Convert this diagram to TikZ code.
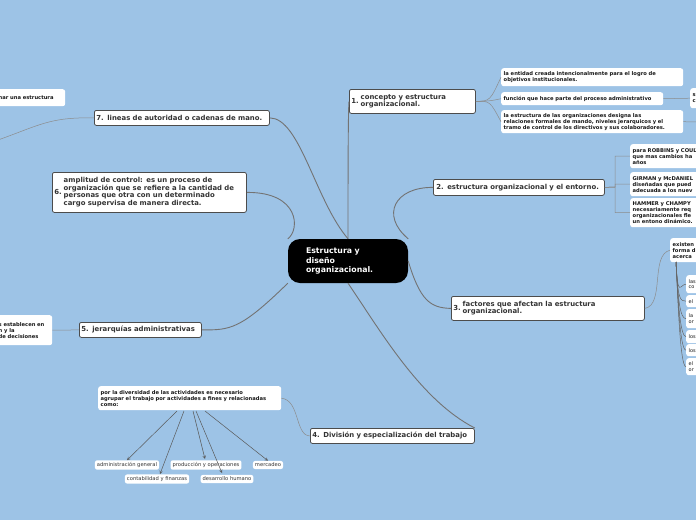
\documentclass[tikz,border=0pt]{standalone}
\usepackage{fontspec}
\setmainfont{DejaVu Sans}
\begin{document}
\begin{tikzpicture}[x=1pt,y=-1pt,
 main/.style={draw=black!70,fill=white,rounded corners=2pt,line width=0.8pt,font=\bfseries\fontsize{6.9}{7.4}\selectfont,align=left,inner sep=2pt,anchor=north west,text=black!80},
 sub/.style={fill=white,rounded corners=2.5pt,font=\bfseries\fontsize{5.2}{6}\selectfont,align=left,inner sep=2.5pt,anchor=north west,text=black!90},
 tw/.style={text width=#1pt},
 leaf/.style={fill=white,rounded corners=2pt,font=\fontsize{5.2}{6}\selectfont,inner sep=2pt,text=black!80},
 ln/.style={draw=black!55,line width=0.9pt},
 thin/.style={draw=black!45,line width=0.5pt},
 arr/.style={draw=black!65,line width=0.5pt,-stealth}]
\fill[fill={rgb,255:red,157;green,195;blue,230}] (0,0) rectangle (696,520);
\clip (0,0) rectangle (696,520);
\node[fill=black,rounded corners=12pt,minimum width=120pt,minimum height=44pt,text=white,font=\bfseries\fontsize{7.8}{9.3}\selectfont,align=left,text width=96pt] (c) at (348,261) {\hspace*{6pt}Estructura y\\\hspace*{6pt}diseño\\\hspace*{6pt}organizacional.};
% main topics
\node[main,tw=122,minimum height=24pt] (t1) at (349,89) {1.\;\begin{tabular}{@{}l@{}}concepto y estructura\\organizacional.\end{tabular}};
\node[main,tw=167,minimum height=16pt] (t2) at (433,179) {\hspace*{1pt}2. estructura organizacional y el entorno.};
\node[main,tw=189,minimum height=24pt] (t3) at (451,296) {3.\;\begin{tabular}{@{}l@{}}factores que afectan la estructura\\organizacional.\end{tabular}};
\node[main,tw=160,minimum height=15pt] (t4) at (310,428) {4. División y especialización del trabajo};
\node[main,tw=118,minimum height=15pt] (t5) at (79,322) {5. jerarquías administrativas};
\node[main,tw=190,minimum height=40pt] (t6) at (52,172) {6.\;\begin{tabular}{@{}l@{}}amplitud de control: es un proceso de\\organización que se refiere a la cantidad de\\personas que otra con un determinado\\cargo supervisa de manera directa.\end{tabular}};
\node[main,tw=171,minimum height=15pt] (t7) at (94,110) {7. lineas de autoridad o cadenas de mano.};
% center links
\draw[ln] (c.north) .. controls (348,200) and (348,110) .. (t1.west);
\draw[ln] (c.north east) .. controls (380,215) and (395,187) .. (t2.west);
\draw[ln] (c.east) .. controls (420,300) and (430,308) .. (t3.west);
\draw[ln] (c.south) .. controls (380,330) and (420,400) .. (t4.north east);
\draw[ln] (c.south west) .. controls (240,330) and (230,330) .. (t5.east);
\draw[ln] (c.north west) .. controls (300,230) and (300,192) .. (t6.east);
\draw[ln] (c.north) .. controls (315,200) and (300,118) .. (t7.east);
% topic 1 children
\node[sub,tw=177,minimum height=18pt] (a1) at (501,68) {la entidad creada intencionalmente para el logro de\\objetivos institucionales.};
\node[sub,tw=157,minimum height=13pt] (a2) at (501,92) {función que hace parte del proceso administrativo};
\node[sub,tw=177,minimum height=23pt] (a3) at (501,110) {la estructura de las organizaciones designa las\\relaciones formales de mando, niveles jerarquicos y el\\tramo de control de los directivos y sus colaboradores.};
\node[sub,tw=20,minimum height=20pt] (a2x) at (690,88) {s\\c};
\coordinate (a3x) at (700,122);
\foreach \n in {a1,a2,a3} \draw[thin] (t1.east) .. controls (490,101) and (490,101) .. (\n.west);
\draw[thin] (a2.east) -- (a2x.west);
\draw[thin] (a3.east) -- (a3x);
% topic 2 children
\node[sub,tw=100,minimum height=24pt] (b1) at (630,144) {para ROBBINS y COULTER\\que mas cambios ha\\años};
\node[sub,tw=100,minimum height=24pt] (b2) at (630,172) {GIRMAN y McDANIEL\\diseñadas que pued\\adecuada a los nuev};
\node[sub,tw=100,minimum height=29pt] (b3) at (630,198) {HAMMER y CHAMPY\\necesariamente req\\organizacionales fle\\un entono dinámico.};
\foreach \n in {b1,b2,b3} \draw[thin] (t2.east) -- (615,187) |- (\n.west);
% topic 3
\node[sub,tw=50,minimum height=24pt] (c0) at (670,238) {existen\\forma d\\acerca};
\draw[thin] (t3.east) .. controls (665,305) and (650,255) .. (c0.west);
\foreach \y/\h/\t [count=\i] in {275/18/{las\\co},295/12/{el},309/19/{la\\or},330/13/{los},344/12/{los},358/17/{el\\or}}{
 \node[sub,font=\fontsize{5}{5.8}\selectfont,tw=20,minimum height=\h pt] (cc\i) at (686,\y) {\t};
 \draw[thin,draw=black!60] (676,262) .. controls (678,300) and (680,\y+\h/2) .. (cc\i.west);
}
% topic 4
\node[sub,tw=178,minimum height=24pt] (d0) at (98,386) {por la diversidad de las actividades es necesario\\agrupar el trabajo por actividades a fines y relacionadas\\como:};
\draw[thin] (t4.west) .. controls (295,436) and (300,400) .. (d0.east);
\node[leaf] (l1) at (127,465) {administración general};
\node[leaf] (l2) at (206,465) {producción y operaciones};
\node[leaf] (l3) at (268,465) {mercadeo};
\node[leaf] (l4) at (157,479) {contabilidad y finanzas};
\node[leaf] (l5) at (227,479) {desarrollo humano};
\draw[arr] (177,411) -- (l1.north);
\draw[arr] (184,411) -- (160,474);
\draw[arr] (193,411) -- (205,459);
\draw[arr] (196,411) -- (222,473);
\draw[arr] (205,411) -- (l3.north);
% topic 5
\node[sub,tw=57,minimum height=30pt] (e0) at (-10,315) {\hspace*{6pt}s establecen en\\\hspace*{6pt}n y la\\\hspace*{6pt}de decisiones};
\draw[thin] (t5.west) -- (e0.east);
% topic 7
\node[sub,tw=70,minimum height=17pt] (g0) at (-10,89) {\hspace*{6pt}har una estructura};
\coordinate (g1) at (-2,140);
\draw[thin] (t7.west) .. controls (50,117) and (40,125) .. (g1);
\end{tikzpicture}
\end{document}
